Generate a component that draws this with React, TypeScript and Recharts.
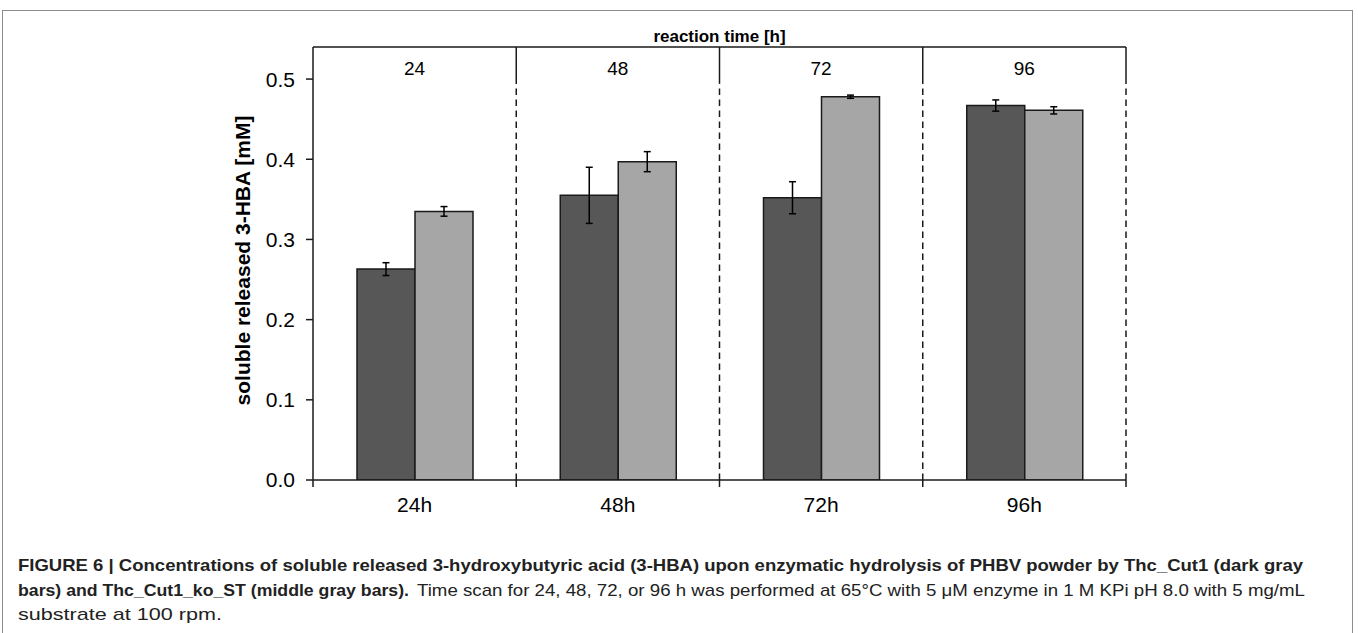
import React from 'react';
import { ComposedChart, Bar, XAxis, YAxis, ErrorBar, ReferenceLine } from 'recharts';

// ---- data ----
const categories = ['24h', '48h', '72h', '96h'];
const headerLabels = ['24', '48', '72', '96'];
const thcCut1 = [0.263, 0.355, 0.352, 0.467];
const thcCut1Err = [0.008, 0.035, 0.02, 0.007];
const thcCut1KoST = [0.335, 0.397, 0.478, 0.461];
const thcCut1KoSTErr = [0.006, 0.0125, 0.002, 0.0045];
const yTicks = [0, 0.1, 0.2, 0.3, 0.4, 0.5];
const yMax = 0.54;
const headerBottom = 0.494;
const xTickDepth = -0.0087;

// category boundaries: start of every band + end of the last one
const boundaries = [
  ...categories.map((c) => ({ cat: c, pos: 'start' as const })),
  { cat: categories[categories.length - 1], pos: 'end' as const },
];
const dividers = boundaries.slice(1);

const data = categories.map((c, i) => ({
  cat: c,
  dark: thcCut1[i],
  darkErr: thcCut1Err[i],
  light: thcCut1KoST[i],
  lightErr: thcCut1KoSTErr[i],
}));

const FONT = 'Liberation Sans, Arial, Helvetica, sans-serif';
const INK = '#1a1a1a';

const YLabel = (props: any) => {
  const vb = props.viewBox;
  const x = vb.x + 17;
  const y = vb.y + vb.height / 2 - 3;
  return (
    <text
      x={x}
      y={y}
      transform={`rotate(-90, ${x}, ${y})`}
      textAnchor="middle"
      fontFamily={FONT}
      fontWeight="bold"
      fontSize={21}
      fill="#000"
    >
      soluble released 3-HBA [mM]
    </text>
  );
};

export default function App() {
  return (
    <div style={{ position: 'absolute', left: 0, top: 0, width: 1358, height: 633, background: '#fff', overflow: 'hidden' }}>
      <div
        style={{
          position: 'absolute',
          left: 2,
          top: 10,
          width: 1351,
          height: 700,
          border: '1.5px solid #8c8c8c',
          boxSizing: 'border-box',
        }}
      />
      <div style={{ position: 'absolute', left: 0, top: 0 }}>
        <ComposedChart
          width={1358}
          height={633}
          data={data}
          margin={{ top: 47, right: 232, bottom: 113, left: 233 }}
          barGap={0}
          barSize={58}
        >
          <XAxis
            dataKey="cat"
            height={40}
            axisLine={{ stroke: INK, strokeWidth: 1.5 }}
            tickLine={false}
            tickSize={0}
            tickMargin={17}
            tick={{ fontSize: 21, fill: '#000', fontFamily: FONT }}
          />
          <YAxis
            domain={[0, yMax]}
            ticks={yTicks}
            allowDataOverflow
            width={80}
            axisLine={{ stroke: INK, strokeWidth: 1.5 }}
            tickLine={{ stroke: INK, strokeWidth: 1.5 }}
            tickSize={7}
            tickMargin={11}
            tickFormatter={(v: number) => v.toFixed(1)}
            tick={{ fontSize: 21, fill: '#000', fontFamily: FONT }}
            label={<YLabel />}
          />
          <ReferenceLine
            y={yMax}
            stroke={INK}
            strokeWidth={1.5}
            label={{
              value: 'reaction time [h]',
              position: 'top',
              offset: 5,
              fontSize: 17,
              fontWeight: 'bold',
              fontFamily: FONT,
              fill: '#000',
            }}
          />
          {dividers.map((d, i) => (
            <ReferenceLine
              key={`s${i}`}
              position={d.pos}
              segment={[{ x: d.cat, y: headerBottom }, { x: d.cat, y: yMax }]}
              stroke={INK}
              strokeWidth={1.5}
            />
          ))}
          {dividers.map((d, i) => (
            <ReferenceLine
              key={`d${i}`}
              position={d.pos}
              segment={[{ x: d.cat, y: 0 }, { x: d.cat, y: headerBottom }]}
              stroke={INK}
              strokeWidth={1.5}
              strokeDasharray="6.5 4.5"
            />
          ))}
          {boundaries.map((d, i) => (
            <ReferenceLine
              key={`t${i}`}
              position={d.pos}
              ifOverflow="visible"
              segment={[{ x: d.cat, y: xTickDepth }, { x: d.cat, y: 0 }]}
              stroke={INK}
              strokeWidth={1.5}
            />
          ))}
          {categories.map((c, i) => (
            <ReferenceLine
              key={`h${c}`}
              x={c}
              stroke="none"
              label={{
                value: headerLabels[i],
                position: 'insideTop',
                offset: 15,
                fontSize: 19,
                fontFamily: FONT,
                fill: '#000',
              }}
            />
          ))}
          <Bar dataKey="dark" fill="#575757" stroke={INK} strokeWidth={1.5} isAnimationActive={false}>
            <ErrorBar dataKey="darkErr" direction="y" width={3.5} stroke="#000" strokeWidth={1.5} />
          </Bar>
          <Bar dataKey="light" fill="#a6a6a6" stroke={INK} strokeWidth={1.5} isAnimationActive={false}>
            <ErrorBar dataKey="lightErr" direction="y" width={3.5} stroke="#000" strokeWidth={1.5} />
          </Bar>
        </ComposedChart>
      </div>
      <svg
        width={1358}
        height={633}
        style={{ position: 'absolute', left: 0, top: 0, pointerEvents: 'none' }}
        fontFamily={FONT}
        fontSize={17}
        fill="#222"
      >
        <text x={18} y={571} fontWeight="bold" textLength={1285} lengthAdjust="spacingAndGlyphs">
          FIGURE 6 | Concentrations of soluble released 3-hydroxybutyric acid (3-HBA) upon enzymatic hydrolysis of PHBV powder by Thc_Cut1 (dark gray
        </text>
        <text x={18} y={596} fontWeight="bold" textLength={391} lengthAdjust="spacingAndGlyphs">
          bars) and Thc_Cut1_ko_ST (middle gray bars).
        </text>
        <text x={417} y={596} textLength={888} lengthAdjust="spacingAndGlyphs">
          Time scan for 24, 48, 72, or 96 h was performed at 65°C with 5 μM enzyme in 1 M KPi pH 8.0 with 5 mg/mL
        </text>
        <text x={18} y={620} textLength={204} lengthAdjust="spacingAndGlyphs">
          substrate at 100 rpm.
        </text>
      </svg>
    </div>
  );
}
